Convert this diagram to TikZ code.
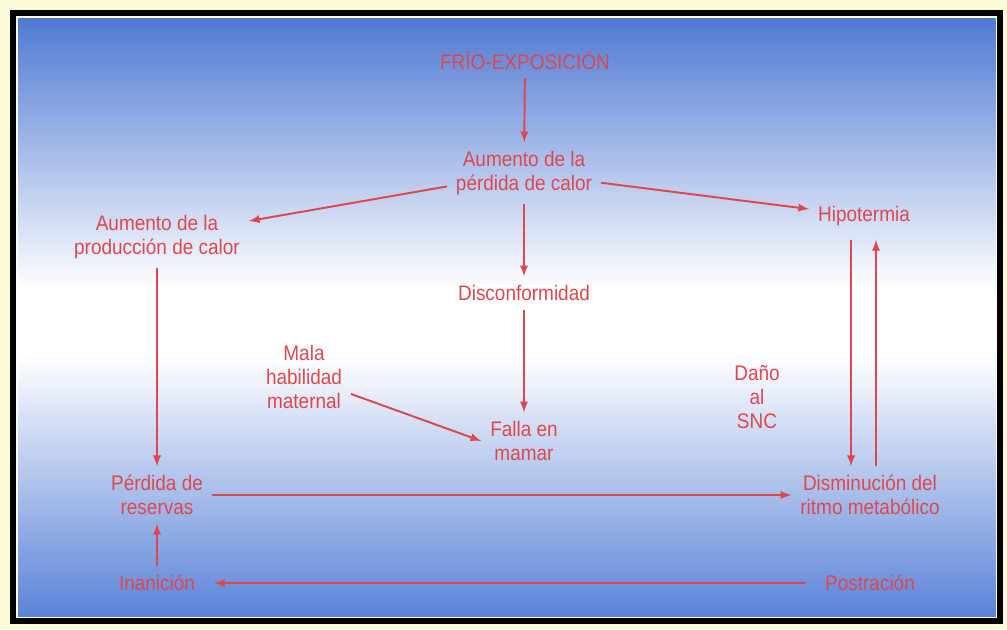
\documentclass[tikz,border=0pt]{standalone}
\usepackage{fontspec}
\setmainfont{Liberation Sans}[FakeStretch=0.9]
\usepackage{tikz}

\definecolor{rojo}{HTML}{E0474D}
\definecolor{azul}{HTML}{4F7AD3}
\definecolor{azulb}{HTML}{5A83D8}
\definecolor{papel}{HTML}{FCF9D6}

\tikzset{
  etiq/.style = {text = rojo, align = center, inner sep = 0pt, outer sep = 0.18cm,
                 font = \fontsize{12}{13.6}\selectfont},
  flecha/.style = {->, draw = rojo, line width = 1.1pt}
}

\begin{document}
\begin{tikzpicture}[x = 0.02cm, y = -0.02cm, >=latex]
		\useasboundingbox (0,0) rectangle (1007,629);
		% fondo y marco
		\fill[papel] (0,0) rectangle (1007,629);
		\shade[top color = azul, bottom color = white] (18,18) rectangle (996,290);
		\fill[white] (18,289) rectangle (996,355);
		\shade[top color = white, bottom color = azulb] (18,354) rectangle (996,617);
		\draw[white, line width = 1pt] (17,17) rectangle (997,618);
		\draw[line width = 3pt] (13,13) rectangle (1000,621);

		\node[etiq] (frio) at (525,60) {FRÍO-EXPOSICIÓN};
		\node[etiq] (perdida) at (524,173) {Aumento de la\\pérdida de calor};
		\node[etiq] (produccion) at (157,237) {Aumento de la\\producción de calor};
		\node[etiq] (hipo) at (864,216) {Hipotermia};
		\node[etiq] (discon) at (524,293) {Disconformidad};
		\node[etiq] (mala) at (304,377) {Mala\\habilidad\\maternal};
		\node[etiq] (falla) at (524,441) {Falla en\\mamar};
		\node[etiq] (snc) at (757,397) {Daño\\al\\SNC};
		\node[etiq] (reservas) at (157,495) {Pérdida de\\reservas};
		\node[etiq] (dism) at (870,495) {Disminución del\\ritmo metabólico};
		\node[etiq] (inan) at (157,583) {Inanición};
		\node[etiq] (postra) at (870,583) {Postración};

		\draw[flecha] (frio) -- (perdida);
		\draw[flecha] (perdida) -- (produccion);
		\draw[flecha] (perdida) -- (hipo);
		\draw[flecha] (perdida) -- (discon);
		\draw[flecha] (produccion) -- (reservas);
		\draw[flecha] (discon) -- (falla);
		\draw[flecha] (mala) -- (falla.west);
		\draw[flecha] ([xshift = -0.26cm, yshift = -0.1cm]hipo.south) -- ([xshift = -0.38cm]dism.north);
		\draw[flecha] ([xshift = 0.12cm]dism.north) -- ([xshift = 0.24cm, yshift = -0.1cm]hipo.south);
		\draw[flecha] (reservas) -- (dism);
		\draw[flecha, shorten < = 0.2cm, shorten > = 0.2cm] (postra) -- (inan);
		\draw[flecha] (inan) -- (reservas);
	\end{tikzpicture}
\end{document}
